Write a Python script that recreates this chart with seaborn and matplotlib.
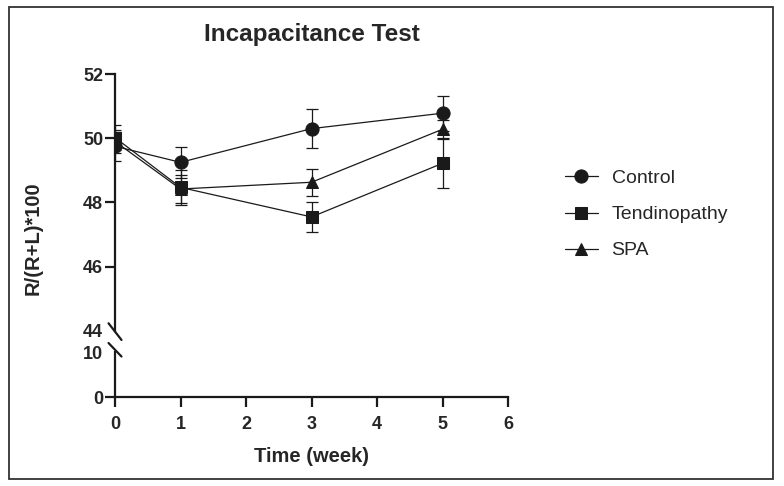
import numpy as np
import pandas as pd
import matplotlib
matplotlib.use("Agg")
import matplotlib.pyplot as plt
import seaborn as sns
from matplotlib.patches import Rectangle

# values
weeks = [0, 1, 3, 5]
groups = ["Control", "Tendinopathy", "SPA"]
control_mean = [49.75, 49.25, 50.3, 50.78]
control_err = [0.45, 0.48, 0.6, 0.55]
tendinopathy_mean = [50.02, 48.47, 47.55, 49.22]
tendinopathy_err = [0.38, 0.55, 0.47, 0.78]
spa_mean = [49.9, 48.42, 48.63, 50.28]
spa_err = [0.35, 0.45, 0.42, 0.3]
markers = {"Control": "o", "Tendinopathy": "s", "SPA": "^"}

means = {"Control": control_mean, "Tendinopathy": tendinopathy_mean, "SPA": spa_mean}
errs = {"Control": control_err, "Tendinopathy": tendinopathy_err, "SPA": spa_err}

rows = []
for g in groups:
    for w, m, e in zip(weeks, means[g], errs[g]):
        rows.append({"week": w, "group": g, "value": m, "err": e})
df = pd.DataFrame(rows)

sns.set_style("ticks")
plt.rcParams["font.family"] = ["Liberation Sans", "DejaVu Sans"]

ink = "#1a1a1a"
fig = plt.figure(figsize=(7.84, 4.86), dpi=100)
ax_top = fig.add_axes([0.1467, 0.319, 0.5013, 0.5287])
ax_bot = fig.add_axes([0.1467, 0.1831, 0.5013, 0.0926])

# frame around the whole figure
fig.patches.append(Rectangle((0.011, 0.015), 0.975, 0.97, transform=fig.transFigure,
                             fill=False, edgecolor="#333333", linewidth=1.3))

for g in groups:
    sub = df[df["group"] == g]
    sns.lineplot(data=sub, x="week", y="value", ax=ax_top, color=ink, marker=markers[g],
                 markersize=9 if g != "Control" else 9.5, markeredgecolor=ink,
                 linewidth=0.9, label=g, legend=False, zorder=3)
    ax_top.errorbar(sub["week"], sub["value"], yerr=sub["err"], fmt="none",
                    ecolor=ink, elinewidth=0.9, capsize=4, capthick=0.9, zorder=2)

for ax in (ax_top, ax_bot):
    ax.set_xlim(0, 6)
    ax.spines["right"].set_visible(False)
    for s in ("left", "bottom", "top"):
        ax.spines[s].set_linewidth(1.6)
        ax.spines[s].set_color(ink)
    ax.tick_params(width=1.6, length=7, color=ink, labelsize=13, pad=1.5)
    ax.set_xlabel("")
    ax.set_ylabel("")

ax_top.set_ylim(44, 52)
ax_top.set_yticks([44, 46, 48, 50, 52])
ax_top.spines["bottom"].set_visible(False)
ax_top.spines["top"].set_visible(False)
ax_top.tick_params(axis="x", bottom=False, labelbottom=False)
ax_top.yaxis.get_major_ticks()[0].tick1line.set_visible(False)

ax_bot.set_ylim(0, 10)
ax_bot.set_yticks([0, 10])
ax_bot.set_xticks(range(0, 7))
ax_bot.spines["top"].set_visible(False)
ax_bot.tick_params(axis="x", pad=6.5)
ax_bot.yaxis.get_major_ticks()[1].tick1line.set_visible(False)
ax_bot.set_xlabel("Time (week)", fontsize=14.5, fontweight="bold", labelpad=10)

for lab in ax_top.get_yticklabels() + ax_bot.get_yticklabels() + ax_bot.get_xticklabels():
    lab.set_fontweight("bold")

# break marks on the y axis
kw = dict(color=ink, linewidth=1.6, clip_on=False)
ax_top.plot([-0.0165, 0.0165], [0.03, -0.035], transform=ax_top.transAxes, **kw)
ax_bot.plot([-0.0165, 0.0165], [1.2, 0.9], transform=ax_bot.transAxes, **kw)

ax_top.set_title("Incapacitance Test", fontsize=17.5, fontweight="bold", pad=24)
fig.text(0.042, 0.51, "R/(R+L)*100", rotation=90, fontsize=14.5, fontweight="bold",
         ha="center", va="center")

leg = ax_top.legend(loc="center left", bbox_to_anchor=(1.1, 0.453), frameon=False,
                    fontsize=14, handlelength=1.7, handletextpad=0.7, labelspacing=0.95)

fig.savefig("out.png", dpi=100)
